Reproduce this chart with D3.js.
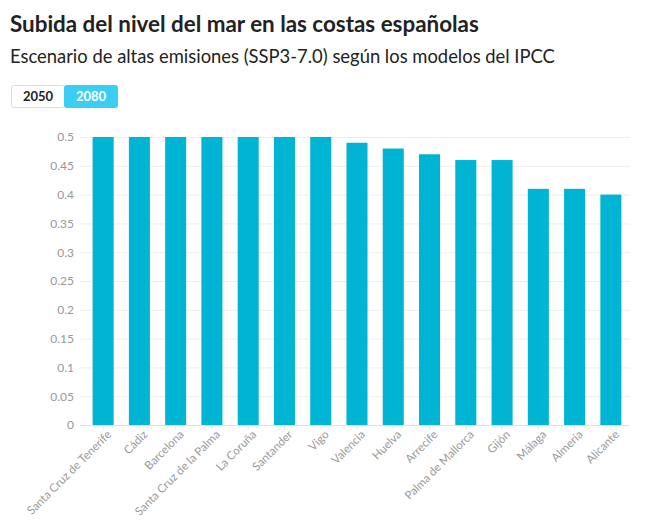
<!DOCTYPE html>
<html><head><meta charset="utf-8">
<script src="https://cdn.jsdelivr.net/npm/d3@7"></script>
<style>
body{margin:0;background:#fff;font-family:Lato,"Noto Sans",sans-serif;}
</style></head>
<body><svg id="c" width="650" height="529"></svg>
<script>
const categories = ["Santa Cruz de Tenerife","Cádiz","Barcelona","Santa Cruz de la Palma","La Coruña","Santander","Vigo","Valencia","Huelva","Arrecife","Palma de Mallorca","Gijón","Málaga","Almería","Alicante"];
const values2080 = [0.5,0.5,0.5,0.5,0.5,0.5,0.5,0.49,0.48,0.47,0.46,0.46,0.41,0.41,0.40];
const yTicks = [0,0.05,0.1,0.15,0.2,0.25,0.3,0.35,0.4,0.45,0.5];
const buttons = ["2050","2080"];
const title = "Subida del nivel del mar en las costas españolas";
const subtitle = "Escenario de altas emisiones (SSP3-7.0) según los modelos del IPCC";

const svg = d3.select("#c");
svg.append("text").attr("x",10).attr("y",32).attr("font-size",22.4).attr("font-weight",700)
  .attr("fill","#222").attr("font-family","Lato, sans-serif").text(title);
svg.append("text").attr("x",10).attr("y",63).attr("font-size",18.4).attr("fill","#222")
  .attr("font-family","Lato, sans-serif").text(subtitle);

const bg = svg.append("g");
buttons.forEach((b,i)=>{
  const x = 11 + i*53;
  bg.append("rect").attr("x",x+0.5).attr("y",85.5).attr("width",53).attr("height",22).attr("rx",2)
    .attr("fill", i===1?"#3ccdf3":"#fff").attr("stroke", i===1?"#3ccdf3":"#ddd");
  bg.append("text").attr("x",x+27).attr("y",101).attr("text-anchor","middle").attr("font-size",13)
    .attr("font-weight",700).attr("fill", i===1?"#fff":"#222").text(b);
});

const x = d3.scaleBand().domain(categories).range([85,629]).paddingInner(0.42).paddingOuter(0.21);
const y = d3.scaleLinear().domain([0,0.5]).range([425,137]);

const grid = svg.append("g");
grid.selectAll("line").data(yTicks).join("line")
  .attr("x1",80).attr("x2",630).attr("y1",d=>y(d)+0.5).attr("y2",d=>y(d)+0.5)
  .attr("stroke",d=>d===0?"#e0e0e0":"#eeeeee").attr("stroke-width",1);

const yAxis = svg.append("g").attr("transform","translate(80,0)")
  .call(d3.axisLeft(y).tickValues(yTicks).tickSize(0).tickPadding(6).tickFormat(d=>String(d)));
yAxis.select(".domain").remove();
yAxis.selectAll("text").attr("fill","#999").attr("font-size",12).attr("font-family","Lato, sans-serif");

svg.append("g").selectAll("rect").data(categories).join("rect")
  .attr("x",d=>x(d)).attr("width",x.bandwidth())
  .attr("y",(d,i)=>y(values2080[i])).attr("height",(d,i)=>y(0)-y(values2080[i]))
  .attr("fill","#00b5d3");

const xAxis = svg.append("g").attr("transform","translate(0,425)")
  .call(d3.axisBottom(x).tickSize(4).tickPadding(4));
xAxis.select(".domain").remove();
xAxis.selectAll(".tick line").attr("stroke","#e3e3e3");
xAxis.selectAll("text").attr("fill","#999").attr("font-size",11.5).attr("font-family","Lato, sans-serif")
  .attr("text-anchor","end").attr("dx","-1").attr("dy","5.5")
  .attr("transform","rotate(-45)");
</script></body></html>
